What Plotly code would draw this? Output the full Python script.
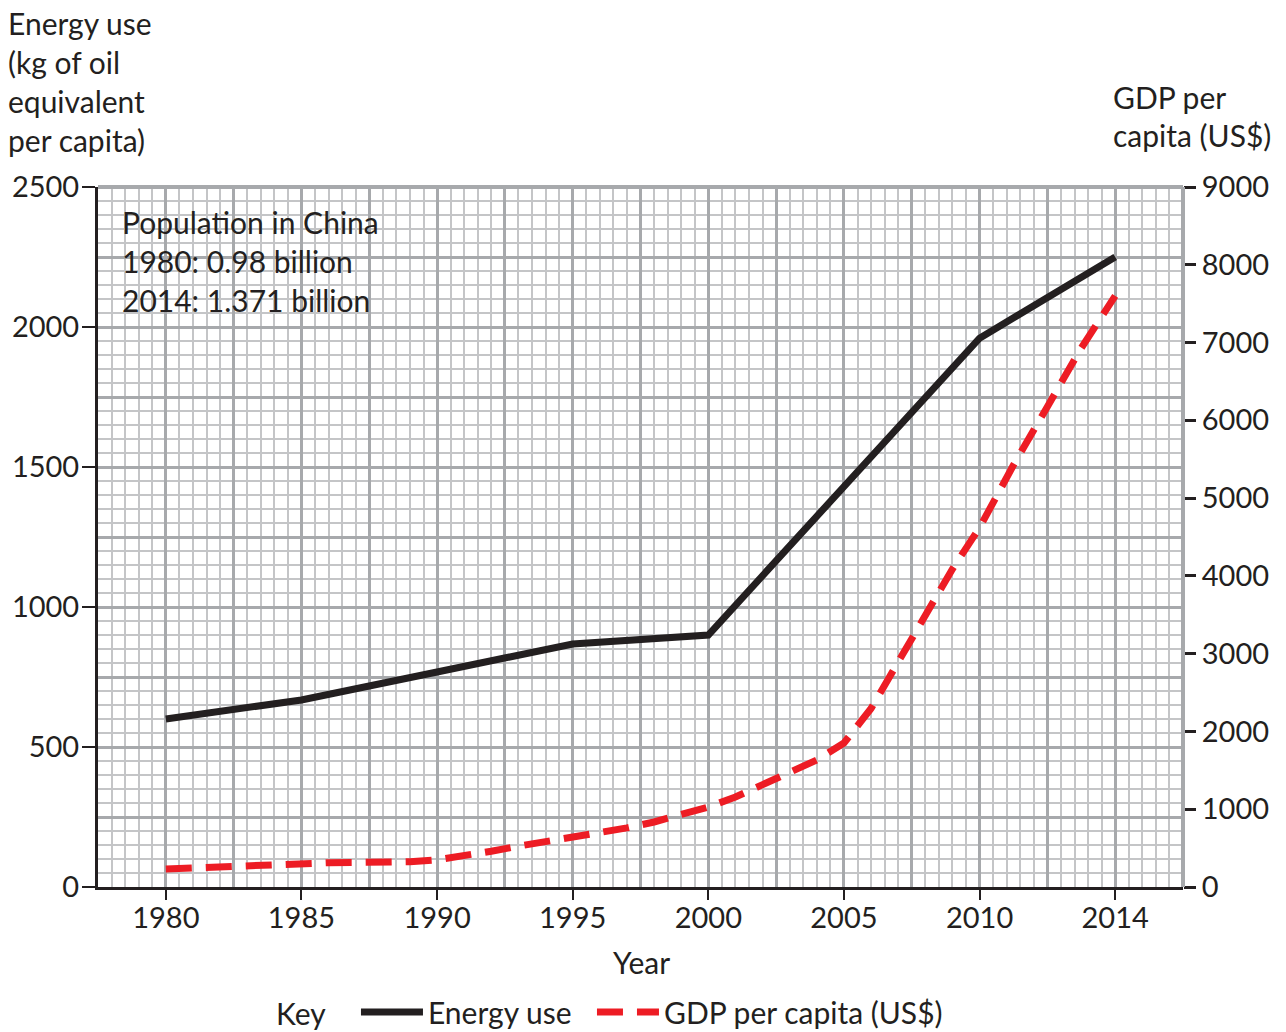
import numpy as np
import plotly.graph_objects as go

# ---------------- data ----------------
tick_years = [1980, 1985, 1990, 1995, 2000, 2005, 2010, 2014]
energy_use = [600, 668, 768, 868, 900, 1430, 1960, 2250]

gdp_years = list(range(1980, 2015))
gdp_per_capita = [231, 248, 262, 280, 295, 305, 312, 315, 318, 325,
                  350, 398, 460, 525, 583, 632, 694, 760, 836, 925,
                  1028, 1157, 1311, 1478, 1633, 1851, 2295, 2893, 3497, 4088,
                  4620, 5425, 6176, 6930, 7600]

left_title = ["Energy use", "(kg of oil", "equivalent", "per capita)"]
right_title = ["GDP per", "capita (US$)"]
box_lines = ["Population in China", "1980: 0.98 billion", "2014: 1.371 billion"]
series_names = ["Energy use", "GDP per capita (US$)"]

# ---------------- style ----------------
FONT = "Lato"
FS = 30
TFS = 29
INK = "#231f20"
RED = "#ed1c24"
GRID_MAJ = "#a7a9ac"
GRID_MIN = "#c4c5c7"
NBSP = "&nbsp;"

W, H = 1286, 1032
L, T = 98, 187
R, B = W - 1183, H - 887
PW, PH = W - L - R, H - T - B


def px_x(px):
    return (px - L) / PW


def px_y(py):
    return (H - B - py) / PH


# axis positions: the labelled years are equally spaced on the chart
tick_pos = list(range(len(tick_years)))


def pos(years):
    return np.interp(years, tick_years, tick_pos)


fig = go.Figure()

# invisible traces to carry the grid axes
fig.add_trace(go.Scatter(x=[None], y=[None], xaxis="x3", yaxis="y",
                         showlegend=False, hoverinfo="skip"))
fig.add_trace(go.Scatter(x=[None], y=[None], xaxis="x", yaxis="y3",
                         showlegend=False, hoverinfo="skip"))

fig.add_trace(go.Scatter(
    x=pos(tick_years), y=energy_use, mode="lines", name=series_names[0] + NBSP * 2,
    line=dict(color=INK, width=7), xaxis="x", yaxis="y"))
fig.add_trace(go.Scatter(
    x=pos(gdp_years), y=gdp_per_capita, mode="lines", name=series_names[1],
    line=dict(color=RED, width=7, dash="26px,14px"), xaxis="x", yaxis="y2"))

xr = [-0.5, len(tick_years) - 0.5]

fig.update_layout(
    width=W, height=H,
    margin=dict(l=L, r=R, t=T, b=B, pad=0, autoexpand=False),
    paper_bgcolor="white", plot_bgcolor="white",
    font=dict(family=FONT, size=FS, color=INK),
    xaxis=dict(range=xr, tickvals=tick_pos, ticktext=[str(y) for y in tick_years],
               ticks="outside", ticklen=10, tickwidth=2, tickcolor=INK,
               ticklabelstandoff=-7,
               showline=True, linecolor=INK, linewidth=3,
               showgrid=False, zeroline=False, tickfont=dict(size=TFS, color=INK)),
    yaxis=dict(range=[0, 2500], tickvals=list(range(0, 2501, 500)),
               ticks="outside", ticklen=13, tickwidth=2, tickcolor=INK,
               ticklabelstandoff=-3,
               showline=True, linecolor=INK, linewidth=3,
               showgrid=False, zeroline=False, tickfont=dict(size=TFS, color=INK)),
    yaxis2=dict(range=[0, 9000], dtick=1000, overlaying="y", side="right",
                ticks="outside", ticklen=12, tickwidth=2.5, tickcolor=INK,
                showline=False, showgrid=False, zeroline=False,
                tickfont=dict(size=TFS, color=INK)),
    xaxis3=dict(range=xr, overlaying="x", dtick=0.5, tick0=0,
                showgrid=True, gridcolor=GRID_MAJ, gridwidth=3,
                minor=dict(dtick=0.1, tick0=0, showgrid=True,
                           gridcolor=GRID_MIN, gridwidth=1.5),
                showticklabels=False, ticks="", showline=False, zeroline=False),
    yaxis3=dict(range=[0, 2500], overlaying="y", dtick=250, tick0=0,
                showgrid=True, gridcolor=GRID_MAJ, gridwidth=3,
                minor=dict(dtick=50, tick0=0, showgrid=True,
                           gridcolor=GRID_MIN, gridwidth=1.5),
                showticklabels=False, ticks="", showline=False, zeroline=False),
    showlegend=True,
    legend=dict(orientation="h", x=px_x(274), xanchor="left",
                y=px_y(1012), yanchor="middle", itemwidth=62,
                title=dict(text="Key" + NBSP * 3, font=dict(size=FS, color=INK)),
                font=dict(size=FS, color=INK), bgcolor="rgba(0,0,0,0)"),
)

# border lines (top and right of plot area)
fig.add_shape(type="line", xref="paper", yref="paper", x0=0, x1=1, y0=1, y1=1,
              line=dict(color=GRID_MAJ, width=4), layer="above")
fig.add_shape(type="line", xref="paper", yref="paper", x0=1, x1=1, y0=0, y1=1,
              line=dict(color=GRID_MAJ, width=4), layer="above")

# white box for population note
fig.add_shape(type="rect", xref="paper", yref="paper",
              x0=px_x(115), x1=px_x(392), y0=px_y(318), y1=px_y(203),
              fillcolor="white", line=dict(width=0), layer="between")

annots = []
for i, t in enumerate(left_title):
    annots.append(dict(text=t, x=px_x(6), y=px_y(23 + 39 * i), xref="paper", yref="paper",
                       xanchor="left", yanchor="middle", showarrow=False))
for i, t in enumerate(right_title):
    annots.append(dict(text=t, x=px_x(1111), y=px_y(97 + 38 * i), xref="paper", yref="paper",
                       xanchor="left", yanchor="middle", showarrow=False))
for i, t in enumerate(box_lines):
    annots.append(dict(text=t, x=px_x(120), y=px_y(222 + 39 * i), xref="paper", yref="paper",
                       xanchor="left", yanchor="middle", showarrow=False))
annots.append(dict(text="Year", x=px_x(641), y=px_y(962), xref="paper", yref="paper",
                   xanchor="center", yanchor="middle", showarrow=False))
fig.update_layout(annotations=annots)

# remove the default page margin so the figure sits at the window origin
fig.write_html("out.html",
               config={"displayModeBar": False},
               post_script="document.body.style.margin='0px'; document.body.style.overflow='hidden';")
